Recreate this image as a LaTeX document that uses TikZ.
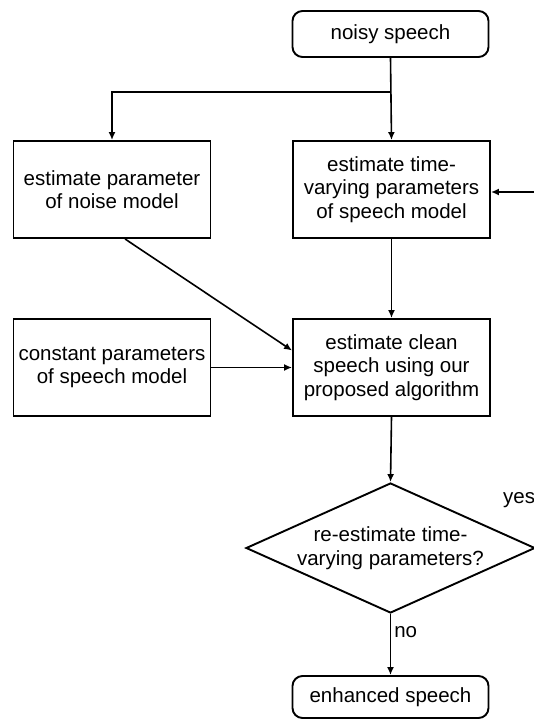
\documentclass[tikz,border=0pt]{standalone}
\usepackage{fontspec}
\setmainfont{Liberation Sans}
\usetikzlibrary{arrows.meta,shapes.geometric}
\begin{document}
\begin{tikzpicture}[x=1pt,y=-1pt,
  every node/.style={font=\fontsize{20.5}{23.5}\selectfont, align=center, inner sep=0pt},
  box/.style={draw, line width=1.9pt, minimum width=197pt, minimum height=97pt},
  term/.style={draw, line width=1.9pt, rounded corners=10pt, minimum width=196pt, minimum height=46pt},
  arr/.style={line width=1.6pt, -{Latex[length=8pt,width=7pt]}}]
\useasboundingbox (0,0) rectangle (534,725);
\node[term] (noisy) at (390.5,34) {noisy speech};
\node[box] (np) at (112,189.5) {estimate parameter\\of noise model};
\node[box] (tv) at (391.5,189.5) {estimate time-\\varying parameters\\of speech model};
\node[box] (cp) at (112,367.5) {constant parameters\\of speech model};
\node[box] (clean) at (391.5,367.5) {estimate clean\\speech using our\\proposed algorithm};
\node[draw, diamond, line width=1.9pt, minimum width=289pt, minimum height=130pt] (dia) at (390.5,548) {};
\node (diat) at (dia.center) {re-estimate time-\\varying parameters?};
\node[term, minimum height=42pt] (enh) at (390.5,697) {enhanced speech};
\coordinate (split) at (390.5,92);
\coordinate (fb) at (534,192);
\draw[arr] (noisy.south) -- (tv.north);
\draw[arr] (split) -| (np.north);
\draw[arr] ([xshift=13pt]np.south) -- ([yshift=17pt]clean.west);
\draw[arr] (cp.east) -- (clean.west);
\draw[arr] (tv.south) -- (clean.north);
\draw[arr] (clean.south) -- (dia.north);
\draw[arr] (dia.south) -- node[pos=0.3, right=3pt] (no) {no} (enh.north);
\draw[arr] (fb) -- (fb -| tv.east);
\node[anchor=west] (yes) at (503,500) {yes};
\end{tikzpicture}
\end{document}
